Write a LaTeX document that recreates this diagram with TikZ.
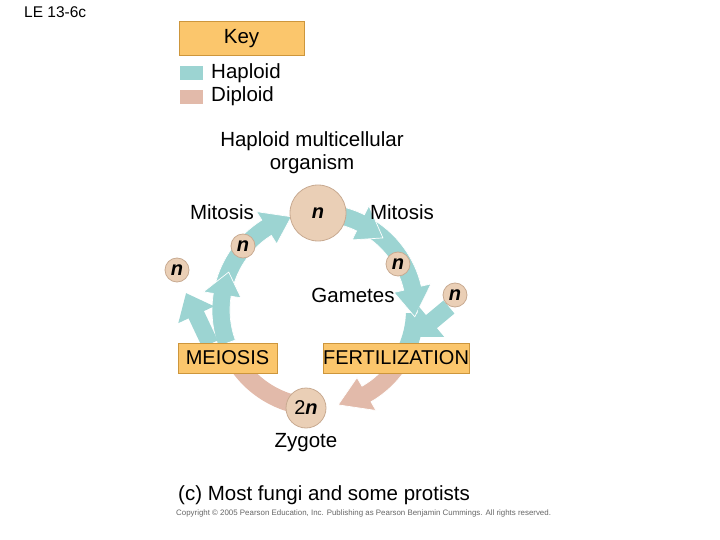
\documentclass[tikz,border=0pt]{standalone}
\usepackage{fontspec}
\setmainfont{Liberation Sans}
\usetikzlibrary{arrows.meta,calc}
\definecolor{hap}{RGB}{156,212,210}
\definecolor{dip}{RGB}{226,186,170}
\definecolor{cellf}{RGB}{234,207,182}
\definecolor{cellb}{RGB}{200,170,145}
\definecolor{boxf}{RGB}{251,198,108}
\definecolor{boxb}{RGB}{205,150,60}
\tikzset{
  straightarrow/.style={line width=17pt, -{Triangle[width=38pt,length=24pt]}},
  cell/.style={circle, fill=cellf, draw=cellb, line width=0.8pt, inner sep=0pt, font=\fontsize{20}{24}\selectfont\bfseries\itshape},
  lbl/.style={font=\fontsize{20.5}{23}\selectfont, inner sep=0pt, align=center},
  stage/.style={draw=boxb, fill=boxf, line width=1pt, minimum height=30pt, inner sep=0pt, font=\fontsize{20}{24}\selectfont},
}
% curved arrow on the ring: colour, start angle, end angle, head span (degrees)
\newcommand\ringarrow[4]{%
  \fill[#1, draw=white, line width=0.7pt] ($(C)+(#2:106)$) arc[start angle=#2, end angle={#3+#4}, radius=106]
   -- ($(C)+({#3+#4}:116)$) -- ($(C)+(#3:97)$) -- ($(C)+({#3+#4}:78)$) -- ($(C)+({#3+#4}:88)$)
   arc[start angle={#3+#4}, end angle=#2, radius=88] -- cycle;}
% plain band on the ring
\newcommand\ringband[3]{%
  \fill[#1] ($(C)+(#2:106)$) arc[start angle=#2, end angle=#3, radius=106]
   -- ($(C)+(#3:88)$) arc[start angle=#3, end angle=#2, radius=88] -- cycle;}
\begin{document}
\begin{tikzpicture}[x=1pt,y=1pt]
\useasboundingbox (0,0) rectangle (720,-540);
\coordinate (C) at (318,-310);
% diploid part
\ringband{dip}{-88}{-150}
\ringarrow{dip}{-22}{-78}{18}
% haploid part
\ringband{hap}{-2}{-24}
\ringarrow{hap}{166}{106}{16}
\ringarrow{hap}{200}{157}{14}
\ringarrow{hap}{60}{-4}{17}
\ringarrow{hap}{82}{48}{16}
% outer arrows
\coordinate (mb) at (210,-344);
\coordinate (mt) at (186,-293);
\coordinate (fs) at (449,-307);
\coordinate (ft) at (413,-337);
\draw[straightarrow, hap] (mb) -- (mt);
\draw[straightarrow, hap] (fs) -- (ft);
% nodes
\node[cell, minimum size=56pt] (org) at (318,-213) {n};
\node[cell, minimum size=24pt] (n1) at (243,-246) {n};
\node[cell, minimum size=24pt] (n2) at (398,-264) {n};
\node[cell, minimum size=24pt] (n3) at (177,-270) {n};
\node[cell, minimum size=24pt] (n4) at (455,-295) {n};
\node[cell, minimum size=40pt, font=\fontsize{20}{24}\selectfont] (zyg) at (306,-408) {2\textbf{\textit{n}}};
\node[stage, minimum width=99pt] (mei) at (227.5,-358) {MEIOSIS};
\node[stage, minimum width=146pt] (fer) at (396,-358) {FERTILIZATION};
% labels
\node[lbl, anchor=west] at (24,-12) {\fontsize{15.5}{18}\selectfont LE 13-6c};
\node[stage, minimum width=125pt, minimum height=34pt, font=\fontsize{20.5}{24}\selectfont] (key) at (241.5,-39) {Key};
\fill[hap] (180,-66) rectangle (203,-80);
\fill[dip] (180,-90) rectangle (203,-104);
\node[lbl, anchor=west] at (211,-73) {Haploid};
\node[lbl, anchor=west] at (211,-96) {Diploid};
\node[lbl] (title) at (312,-153) {Haploid multicellular\\organism};
\node[lbl] at (222,-212) {Mitosis};
\node[lbl] at (402,-212) {Mitosis};
\node[lbl] at (353,-295) {Gametes};
\node[lbl] at (306,-443) {Zygote};
\node[lbl, anchor=west] at (178,-495) {(c) Most fungi and some protists};
\node[anchor=west, inner sep=0pt, text=black!60, font=\fontsize{7.9}{9}\selectfont] at (176,-513) {Copyright \textcopyright{} 2005 Pearson Education, Inc. Publishing as Pearson Benjamin Cummings. All rights reserved.};
\end{tikzpicture}
\end{document}
